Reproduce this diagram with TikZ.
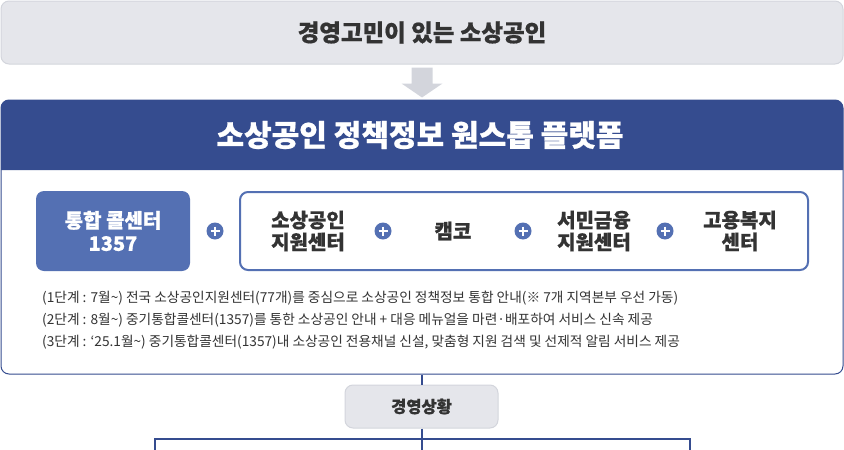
\documentclass[tikz,border=0pt]{standalone}
\usepackage{fontspec}
\setmainfont{Noto Sans CJK KR}
\newfontfamily\krh{Noto Sans CJK KR}[BoldFeatures={FakeBold=0.7}]
\usetikzlibrary{calc}
\definecolor{hdr}{HTML}{354C8F}
\definecolor{mid}{HTML}{5470B3}
\definecolor{lgray}{HTML}{E5E6EB}
\definecolor{bgray}{HTML}{D3D5DC}
\definecolor{txt}{HTML}{333333}
\tikzset{
  graybox/.style={draw=bgray, line width=1pt, fill=lgray, rounded corners=8pt, inner sep=0pt, text=txt, font=\krh\bfseries},
  callbox/.style={fill=mid, rounded corners=8pt, inner sep=0pt, text=white, align=center, font=\krh\bfseries\fontsize{20}{23}\selectfont},
  grpbox/.style={draw=mid, line width=2pt, rounded corners=8pt, inner sep=0pt, fill=white},
  item/.style={inner sep=0pt, text=txt, align=center, font=\krh\bfseries\fontsize{20}{22}\selectfont},
  pluscirc/.style={circle, fill=mid, minimum size=17pt, inner sep=0pt},
  treeline/.style={draw=hdr, line width=2.5pt},
}
\begin{document}
\begin{tikzpicture}[x=1pt,y=-1pt]
\useasboundingbox (0,0) rectangle (844,450);
% top box
\node[graybox, minimum width=842pt, minimum height=63pt, font=\krh\bfseries\fontsize{23.5}{26}\selectfont] (top) at (422,32.5) {경영고민이 있는 소상공인};
% platform box
\node[draw=hdr, line width=1pt, fill=white, rounded corners=8pt, minimum width=842pt, minimum height=274pt, inner sep=0pt] (plat) at (422,237) {};
\fill[hdr] (1,170) {[rounded corners=8pt] -- (1,100) -- (843,100)} -- (843,170) -- cycle;
\node[text=white, font=\krh\bfseries\fontsize{30}{33}\selectfont, inner sep=0pt] (hdrt) at (420,135) {소상공인 정책정보 원스톱 플랫폼};
% arrow
\fill[bgray] ($(top.south)+(-10.5,3)$) -- ($(top.south)+(10.5,3)$) -- ($(top.south)+(10.5,19)$) -- ($(top.south)+(20.5,19)$)
  -- ($(top.south)+(0,33)$) -- ($(top.south)+(-20.5,19)$) -- ($(top.south)+(-10.5,19)$) -- cycle;
% call center
\node[callbox, minimum width=154pt, minimum height=80pt] (call) at (113,231) {통합 콜센터\\1357};
\node[grpbox, minimum width=568pt, minimum height=78pt] (grp) at (524,231) {};
\node[item] (i1) at (308,231) {소상공인\\지원센터};
\node[item] (i2) at (453,231) {캠코};
\node[item] (i3) at (594,231) {서민금융\\지원센터};
\node[item] (i4) at (740,231) {고용복지\\센터};
\foreach \n/\x in {p1/215,p2/383,p3/523,p4/665}{
  \node[pluscirc] (\n) at (\x,231) {};
  \draw[white, line width=2pt] ($(\n)+(-4.5,0)$) -- ($(\n)+(4.5,0)$) ($(\n)+(0,-4.5)$) -- ($(\n)+(0,4.5)$);
}
% notes
\node[anchor=west, align=left, inner sep=0pt, text=txt, font=\fontsize{13.7}{22}\selectfont] (notes) at (42,320) {(1단계 : 7월\textasciitilde) 전국 소상공인지원센터(77개)를 중심으로 소상공인 정책정보 통합 안내(※ 7개 지역본부 우선 가동)\\
(2단계 : 8월\textasciitilde) 중기통합콜센터(1357)를 통한 소상공인 안내 + 대응 메뉴얼을 마련·배포하여 서비스 신속 제공\\
(3단계 : ‘25.1월\textasciitilde) 중기통합콜센터(1357)내 소상공인 전용채널 신설, 맞춤형 지원 검색 및 선제적 알림 서비스 제공};
% situation
\node[graybox, minimum width=153pt, minimum height=43pt, font=\krh\bfseries\fontsize{16.5}{18}\selectfont] (sit) at (421.5,406.5) {경영상황};
\coordinate (hj) at (422,439);
\coordinate (hl) at (155,439);
\coordinate (hr) at (690,439);
\coordinate (bl) at (155,452);
\coordinate (bm) at (422,452);
\coordinate (br) at (690,452);
\draw[treeline] (plat.south -| hj) -- (sit.north -| hj);
\draw[treeline] (sit.south -| hj) -- (hj);
\draw[treeline, line cap=rect] (bl) -- (hl) -- (hr) -- (br);
\draw[treeline] (hj) -- (bm);
\end{tikzpicture}
\end{document}
